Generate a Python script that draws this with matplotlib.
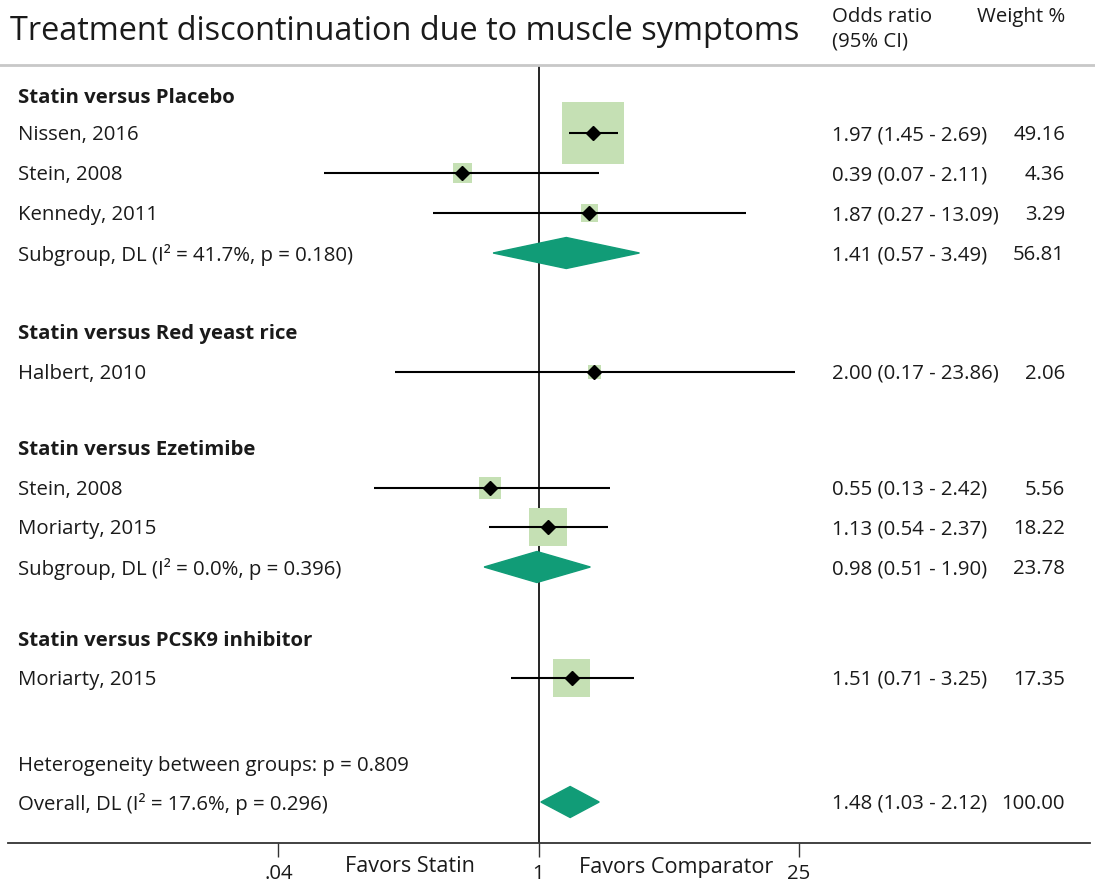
import numpy as np
import matplotlib
matplotlib.use("Agg")
import matplotlib.pyplot as plt
from matplotlib.patches import Polygon
from matplotlib.lines import Line2D
import matplotlib.transforms as mtransforms

# ---------------- data ----------------
title = "Treatment discontinuation due to muscle symptoms"
col_or = "Odds ratio\n(95% CI)"
col_w = "Weight %"

groups = ["Statin versus Placebo", "Statin versus Red yeast rice",
          "Statin versus Ezetimibe", "Statin versus PCSK9 inhibitor"]

studies = ["Nissen, 2016", "Stein, 2008", "Kennedy, 2011", "Halbert, 2010",
           "Stein, 2008", "Moriarty, 2015", "Moriarty, 2015"]
study_or = [1.97, 0.39, 1.87, 2.00, 0.55, 1.13, 1.51]
study_lo = [1.45, 0.07, 0.27, 0.17, 0.13, 0.54, 0.71]
study_hi = [2.69, 2.11, 13.09, 23.86, 2.42, 2.37, 3.25]
study_w = [49.16, 4.36, 3.29, 2.06, 5.56, 18.22, 17.35]

pooled_labels = ["Subgroup, DL (I² = 41.7%, p = 0.180)",
                 "Subgroup, DL (I² = 0.0%, p = 0.396)",
                 "Overall, DL (I² = 17.6%, p = 0.296)"]
pooled_or = [1.41, 0.98, 1.48]
pooled_lo = [0.57, 0.51, 1.03]
pooled_hi = [3.49, 1.90, 2.12]
pooled_w = [56.81, 23.78, 100.00]

heterogeneity = "Heterogeneity between groups: p = 0.809"
ticks = [0.04, 1, 25]
tick_labels = [".04", "1", "25"]
favors = ["Favors Statin", "Favors Comparator"]

# ---------------- layout (pixel rows) ----------------
W, H = 1095, 886
group_y = [96, 332, 448, 639]
study_y = [133, 173, 213, 372, 488, 527, 678]
pooled_y = [253, 567, 802]
het_y = 764
axis_y = 843
top_line_y = 65
TDY = 2  # text vertical nudge (px)

# pixel mapping of x axis: value 1 at 538.5 px, px per decade
x0_px, x1_px = 8, 1090
ref_px, ppd = 538.5, 186.0
xmin = 10 ** ((x0_px - ref_px) / ppd)
xmax = 10 ** ((x1_px - ref_px) / ppd)

plt.rcParams['font.family'] = ['Open Sans', 'DejaVu Sans']
TXT = '#1a1a1a'
FS = 14.7

fig = plt.figure(figsize=(W / 100, H / 100), dpi=100)
ax = fig.add_axes([x0_px / W, (H - axis_y) / H, (x1_px - x0_px) / W, (axis_y - top_line_y) / H])
ax.set_xscale('log')
ax.set_xlim(xmin, xmax)
ax.set_ylim(axis_y, top_line_y)
for s in ['top', 'left', 'right']:
    ax.spines[s].set_visible(False)
ax.spines['bottom'].set_color('#333333')
ax.spines['bottom'].set_linewidth(1.3)
ax.set_yticks([])
ax.set_xticks(ticks)
ax.set_xticklabels(tick_labels)
ax.set_xticks([], minor=True)
ax.tick_params(axis='x', direction='out', length=10, width=1, color='#333333',
               labelsize=FS, labelcolor=TXT, pad=5)
ax.patch.set_alpha(0)

ax.axvline(1, color='black', lw=1.2, zorder=1)

# studies
side_px = 8.6 * np.sqrt(np.array(study_w)) + 1.5
ax.scatter(study_or, study_y, s=(side_px * 0.72) ** 2, marker='s',
           color='#c5e0b4', edgecolors='none', zorder=2)
ax.hlines(study_y, study_lo, study_hi, color='black', lw=1.5, zorder=3)
ax.plot(study_or, study_y, 'D', color='black', ms=7, zorder=4)

# pooled diamonds
for o, lo, hi, y in zip(pooled_or, pooled_lo, pooled_hi, pooled_y):
    ax.add_patch(Polygon([(lo, y), (o, y - 15.5), (hi, y), (o, y + 15.5)],
                         closed=True, color='#119c77', zorder=3))

# text
tr = mtransforms.blended_transform_factory(fig.transFigure, ax.transData)
def fx(px):
    return px / W

fig.text(fx(10), 1 - 31 / H, title, fontsize=23.4, color=TXT, va='center', ha='left')
or_lines = col_or.split("\n")
fig.text(fx(832), 1 - 17 / H, or_lines[0], fontsize=FS, color=TXT, va='center', ha='left')
fig.text(fx(832), 1 - 41 / H, or_lines[1], fontsize=FS, color=TXT, va='center', ha='left')
fig.text(fx(1065), 1 - 17 / H, col_w, fontsize=FS, color=TXT, va='center', ha='right')
fig.add_artist(Line2D([0, 1], [1 - top_line_y / H] * 2, transform=fig.transFigure,
                      color='#c8c8c8', lw=2))

for g, y in zip(groups, group_y):
    ax.text(fx(18), y + TDY, g, transform=tr, fontsize=FS, fontweight='bold', color=TXT,
            va='center', ha='left')

def row_text(label, o, lo, hi, w, y):
    y = y + TDY
    ax.text(fx(18), y, label, transform=tr, fontsize=FS, color=TXT, va='center', ha='left')
    ax.text(fx(832), y, f"{o:.2f} ({lo:.2f} - {hi:.2f})", transform=tr, fontsize=FS,
            color=TXT, va='center', ha='left')
    ax.text(fx(1065), y, f"{w:.2f}", transform=tr, fontsize=FS, color=TXT,
            va='center', ha='right')

for r in zip(studies, study_or, study_lo, study_hi, study_w, study_y):
    row_text(*r)
for r in zip(pooled_labels, pooled_or, pooled_lo, pooled_hi, pooled_w, pooled_y):
    row_text(*r)
ax.text(fx(18), het_y + TDY, heterogeneity, transform=tr, fontsize=FS, color=TXT,
        va='center', ha='left')

ax.text(fx(409.5), 867, favors[0], transform=tr, fontsize=15.6, color=TXT, va='center', ha='center')
ax.text(fx(676), 867, favors[1], transform=tr, fontsize=15.6, color=TXT, va='center', ha='center')

fig.savefig("out.png", dpi=100)
